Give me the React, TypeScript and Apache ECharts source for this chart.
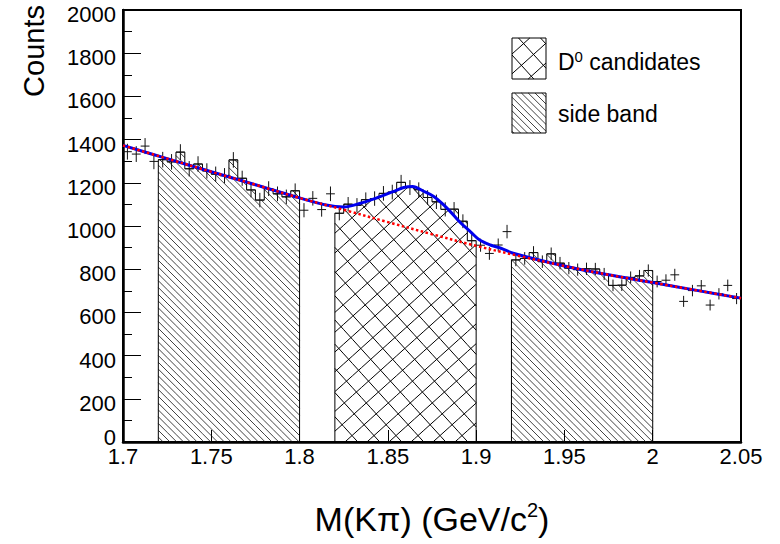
import React, { useEffect, useRef } from 'react';
import * as echarts from 'echarts';

const FONT = '"Liberation Sans", Arial, Helvetica, sans-serif';

// Histogram binning (GeV/c^2)
const binLow = 1.7;
const binWidth = 0.005;

// Counts per bin, 1.700 .. 2.050
const counts = [
  1344, 1333, 1370, 1299, 1307, 1297, 1342, 1265, 1287, 1255,
  1240, 1233, 1306, 1221, 1167, 1120, 1173, 1149, 1135, 1163,
  1073, 1128, 1076, 1149, 1059, 1101, 1096, 1122, 1127, 1151,
  1157, 1202, 1178, 1168, 1132, 1112, 1077, 1078, 1022, 932,
  911, 873, 912, 974, 843, 850, 877, 835, 871, 828,
  805, 798, 802, 801, 778, 725, 726, 762, 769, 794,
  743, 749, 774, 651, 701, 723, 634, 686, 725, 664,
];

// Selection windows
const sideBandLow = [1.72, 1.8];
const candidateWindow = [1.82, 1.9];
const sideBandHigh = [1.92, 2.0];

// Fit curves
const bkgCurve = [
  [1.7, 1373], [1.725, 1312], [1.75, 1251], [1.775, 1191], [1.8, 1130],
  [1.825, 1075], [1.85, 1018], [1.875, 962], [1.9, 908], [1.925, 860],
  [1.95, 815], [1.975, 774], [2.0, 738], [2.025, 702], [2.05, 666],
];
const totalCurve = [
  [1.7, 1373], [1.725, 1312], [1.75, 1251], [1.775, 1191], [1.8, 1130],
  [1.815, 1097], [1.825, 1088], [1.834, 1104], [1.843, 1128], [1.853, 1159],
  [1.859, 1178], [1.864, 1183], [1.87, 1162], [1.876, 1137], [1.881, 1102],
  [1.885, 1070], [1.891, 1016], [1.897, 972], [1.902, 935], [1.908, 912],
  [1.914, 897], [1.921, 874], [1.95, 815], [1.975, 774], [2.0, 738],
  [2.025, 702], [2.05, 666],
];

const legendLabels = ['D', '0', ' candidates', 'side band'];

type Fam = { a: number; sp: number; color: string; width: number };

const sideFams: Fam[] = [{ a: 1, sp: 6.8, color: '#111', width: 0.8 }];
const crossFams: Fam[] = [
  { a: 1.1, sp: 22 * 1.1, color: '#000', width: 1 },
  { a: -0.9, sp: 22 * 0.9, color: '#000', width: 1 },
];

function seg(x1: number, y1: number, x2: number, y2: number, color = '#000', width = 1) {
  return { type: 'line', silent: true, shape: { x1, y1, x2, y2 }, style: { stroke: color, lineWidth: width } };
}

function hatch(x0: number, y0: number, x1: number, y1: number, f: Fam) {
  const out: any[] = [];
  const { a, sp } = f;
  const cs = [y0 - a * x0, y0 - a * x1, y1 - a * x0, y1 - a * x1];
  const cmin = Math.min(...cs);
  const cmax = Math.max(...cs);
  for (let n = Math.ceil(cmin / sp); n * sp <= cmax; n++) {
    const c = n * sp;
    const xa = (y0 - c) / a;
    const xb = (y1 - c) / a;
    const lo = Math.max(x0, Math.min(xa, xb));
    const hi = Math.min(x1, Math.max(xa, xb));
    if (hi - lo > 0.05) out.push(seg(lo, a * lo + c, hi, a * hi + c, f.color, f.width));
  }
  return out;
}

function binsIn(range: number[]) {
  const idx: number[] = [];
  counts.forEach((_, k) => {
    const xl = binLow + k * binWidth;
    if (xl >= range[0] - 1e-9 && xl + binWidth <= range[1] + 1e-9) idx.push(k);
  });
  return idx;
}

function regionSeries(range: number[], fams: Fam[]) {
  const idx = binsIn(range);
  const kStart = idx[0];
  const kEnd = idx[idx.length - 1];
  return {
    type: 'custom',
    silent: true,
    z: 2,
    data: idx.map((k) => [binLow + (k + 0.5) * binWidth, counts[k], k]),
    encode: { x: 0, y: 1 },
    renderItem: (_p: any, api: any) => {
      const k = api.value(2) as number;
      const v = api.value(1) as number;
      const xl = binLow + k * binWidth;
      const xr = xl + binWidth;
      const [px0, pyTop] = api.coord([xl, v]);
      const [px1, pyBot] = api.coord([xr, 0]);
      const children: any[] = [];
      fams.forEach((f) => children.push(...hatch(px0, pyTop, px1, pyBot, f)));
      const prevY = k === kStart ? pyBot : api.coord([xl, counts[k - 1]])[1];
      children.push(seg(px0, prevY, px0, pyTop));
      children.push(seg(px0, pyTop, px1, pyTop));
      if (k === kEnd) children.push(seg(px1, pyTop, px1, pyBot));
      return { type: 'group', children };
    },
  };
}

function legendSwatch(x: number, y: number, w: number, h: number, fams: Fam[]) {
  const children: any[] = [];
  fams.forEach((f) => children.push(...hatch(x, y, x + w, y + h, f)));
  children.push({
    type: 'rect', silent: true, shape: { x, y, width: w, height: h },
    style: { fill: 'none', stroke: '#000', lineWidth: 1 },
  });
  return { type: 'group', children };
}

export default function App() {
  const ref = useRef<HTMLDivElement>(null);
  useEffect(() => {
    if (!ref.current) return;
    const chart = echarts.init(ref.current, null, { renderer: 'svg' });
    const option: any = {
      animation: false,
      backgroundColor: '#fff',
      grid: {
        left: 123, right: 39, top: 10, bottom: 102,
        show: true, borderColor: '#000', borderWidth: 2,
        containLabel: false, outerBoundsMode: 'none',
      },
      xAxis: {
        type: 'value', min: 1.7, max: 2.05, interval: 0.05,
        axisLine: { show: true, onZero: false, lineStyle: { color: '#000', width: 2.5 } },
        axisTick: { show: true, inside: true, length: 12, lineStyle: { color: '#000', width: 1 } },
        axisLabel: {
          color: '#000', fontSize: 22, fontFamily: FONT, margin: 3,
          showMinLabel: true, showMaxLabel: true,
          formatter: (v: number) => String(+v.toFixed(2)),
        },
        splitLine: { show: false },
      },
      yAxis: {
        type: 'value', min: 0, max: 2000, interval: 200,
        axisLine: { show: true, onZero: false, lineStyle: { color: '#000', width: 2.5 } },
        axisTick: { show: true, inside: true, length: 18, lineStyle: { color: '#000', width: 1 } },
        minorTick: { show: true, splitNumber: 2, length: 9, lineStyle: { color: '#000', width: 1 } },
        axisLabel: {
          color: '#000', fontSize: 22, fontFamily: FONT, margin: 7,
          formatter: (v: number) => (v === 0 ? '{z|0}' : `{n|${v}}`),
          rich: {
            n: { fontSize: 22, fontFamily: FONT, color: '#000', padding: [9, 0, 0, 0] },
            z: { fontSize: 22, fontFamily: FONT, color: '#000', padding: [0, 0, 10, 0] },
          },
        },
        splitLine: { show: false },
      },
      series: [
        regionSeries(sideBandLow, sideFams),
        regionSeries(candidateWindow, crossFams),
        regionSeries(sideBandHigh, sideFams),
        {
          type: 'custom', silent: true, z: 3,
          data: counts.map((v, k) => [binLow + (k + 0.5) * binWidth, v]),
          encode: { x: 0, y: 1 },
          renderItem: (_p: any, api: any) => {
            const c = api.value(0) as number;
            const v = api.value(1) as number;
            const e = Math.sqrt(v);
            const pl = api.coord([c - binWidth / 2, v]);
            const pr = api.coord([c + binWidth / 2, v]);
            const pt = api.coord([c, v + e]);
            const pb = api.coord([c, v - e]);
            return {
              type: 'group',
              children: [seg(pl[0], pl[1], pr[0], pr[1], '#111'), seg(pt[0], pt[1], pb[0], pb[1], '#111')],
            };
          },
        },
        {
          type: 'line', data: totalCurve, smooth: 0.35, showSymbol: false, symbol: 'none', silent: true, z: 4,
          lineStyle: { color: '#0000ee', width: 3 },
        },
        {
          type: 'line', data: bkgCurve, smooth: 0.35, showSymbol: false, symbol: 'none', silent: true, z: 5,
          lineStyle: { color: '#ff0000', width: 2.5, type: [2.5, 2.5] },
        },
      ],
      graphic: [
        legendSwatch(512, 38, 34, 41, crossFams),
        legendSwatch(512, 93, 34, 40, sideFams),
        {
          type: 'text', x: 558, y: 62, silent: true,
          style: {
            text: `{a|${legendLabels[0]}}{s|${legendLabels[1]}}{a|${legendLabels[2]}}`,
            textAlign: 'left', textVerticalAlign: 'middle',
            rich: {
              a: { fontSize: 23, fontFamily: FONT, fill: '#000', lineHeight: 27 },
              s: { fontSize: 15, fontFamily: FONT, fill: '#000', lineHeight: 27, verticalAlign: 'top' },
            },
          },
        },
        {
          type: 'text', x: 558, y: 114, silent: true,
          style: { text: legendLabels[3], font: `23px ${FONT}`, fill: '#000', textAlign: 'left', textVerticalAlign: 'middle' },
        },
        {
          type: 'text', x: 34, y: 5, rotation: Math.PI / 2, silent: true,
          style: { text: 'Counts', font: `29px ${FONT}`, fill: '#000', textAlign: 'right', textVerticalAlign: 'middle' },
        },
        {
          type: 'text', x: 432, y: 519, silent: true,
          style: {
            text: '{a|M(Kπ) (GeV/c}{s|2}{a|)}',
            textAlign: 'center', textVerticalAlign: 'middle',
            rich: {
              a: { fontSize: 34, fontFamily: FONT, fill: '#000', lineHeight: 38 },
              s: { fontSize: 20, fontFamily: FONT, fill: '#000', lineHeight: 38, verticalAlign: 'top' },
            },
          },
        },
      ],
    };
    chart.setOption(option);
    return () => chart.dispose();
  }, []);
  return (
    <div
      ref={ref}
      style={{ position: 'fixed', left: 0, top: 0, width: 780, height: 544, background: '#fff' }}
    />
  );
}
